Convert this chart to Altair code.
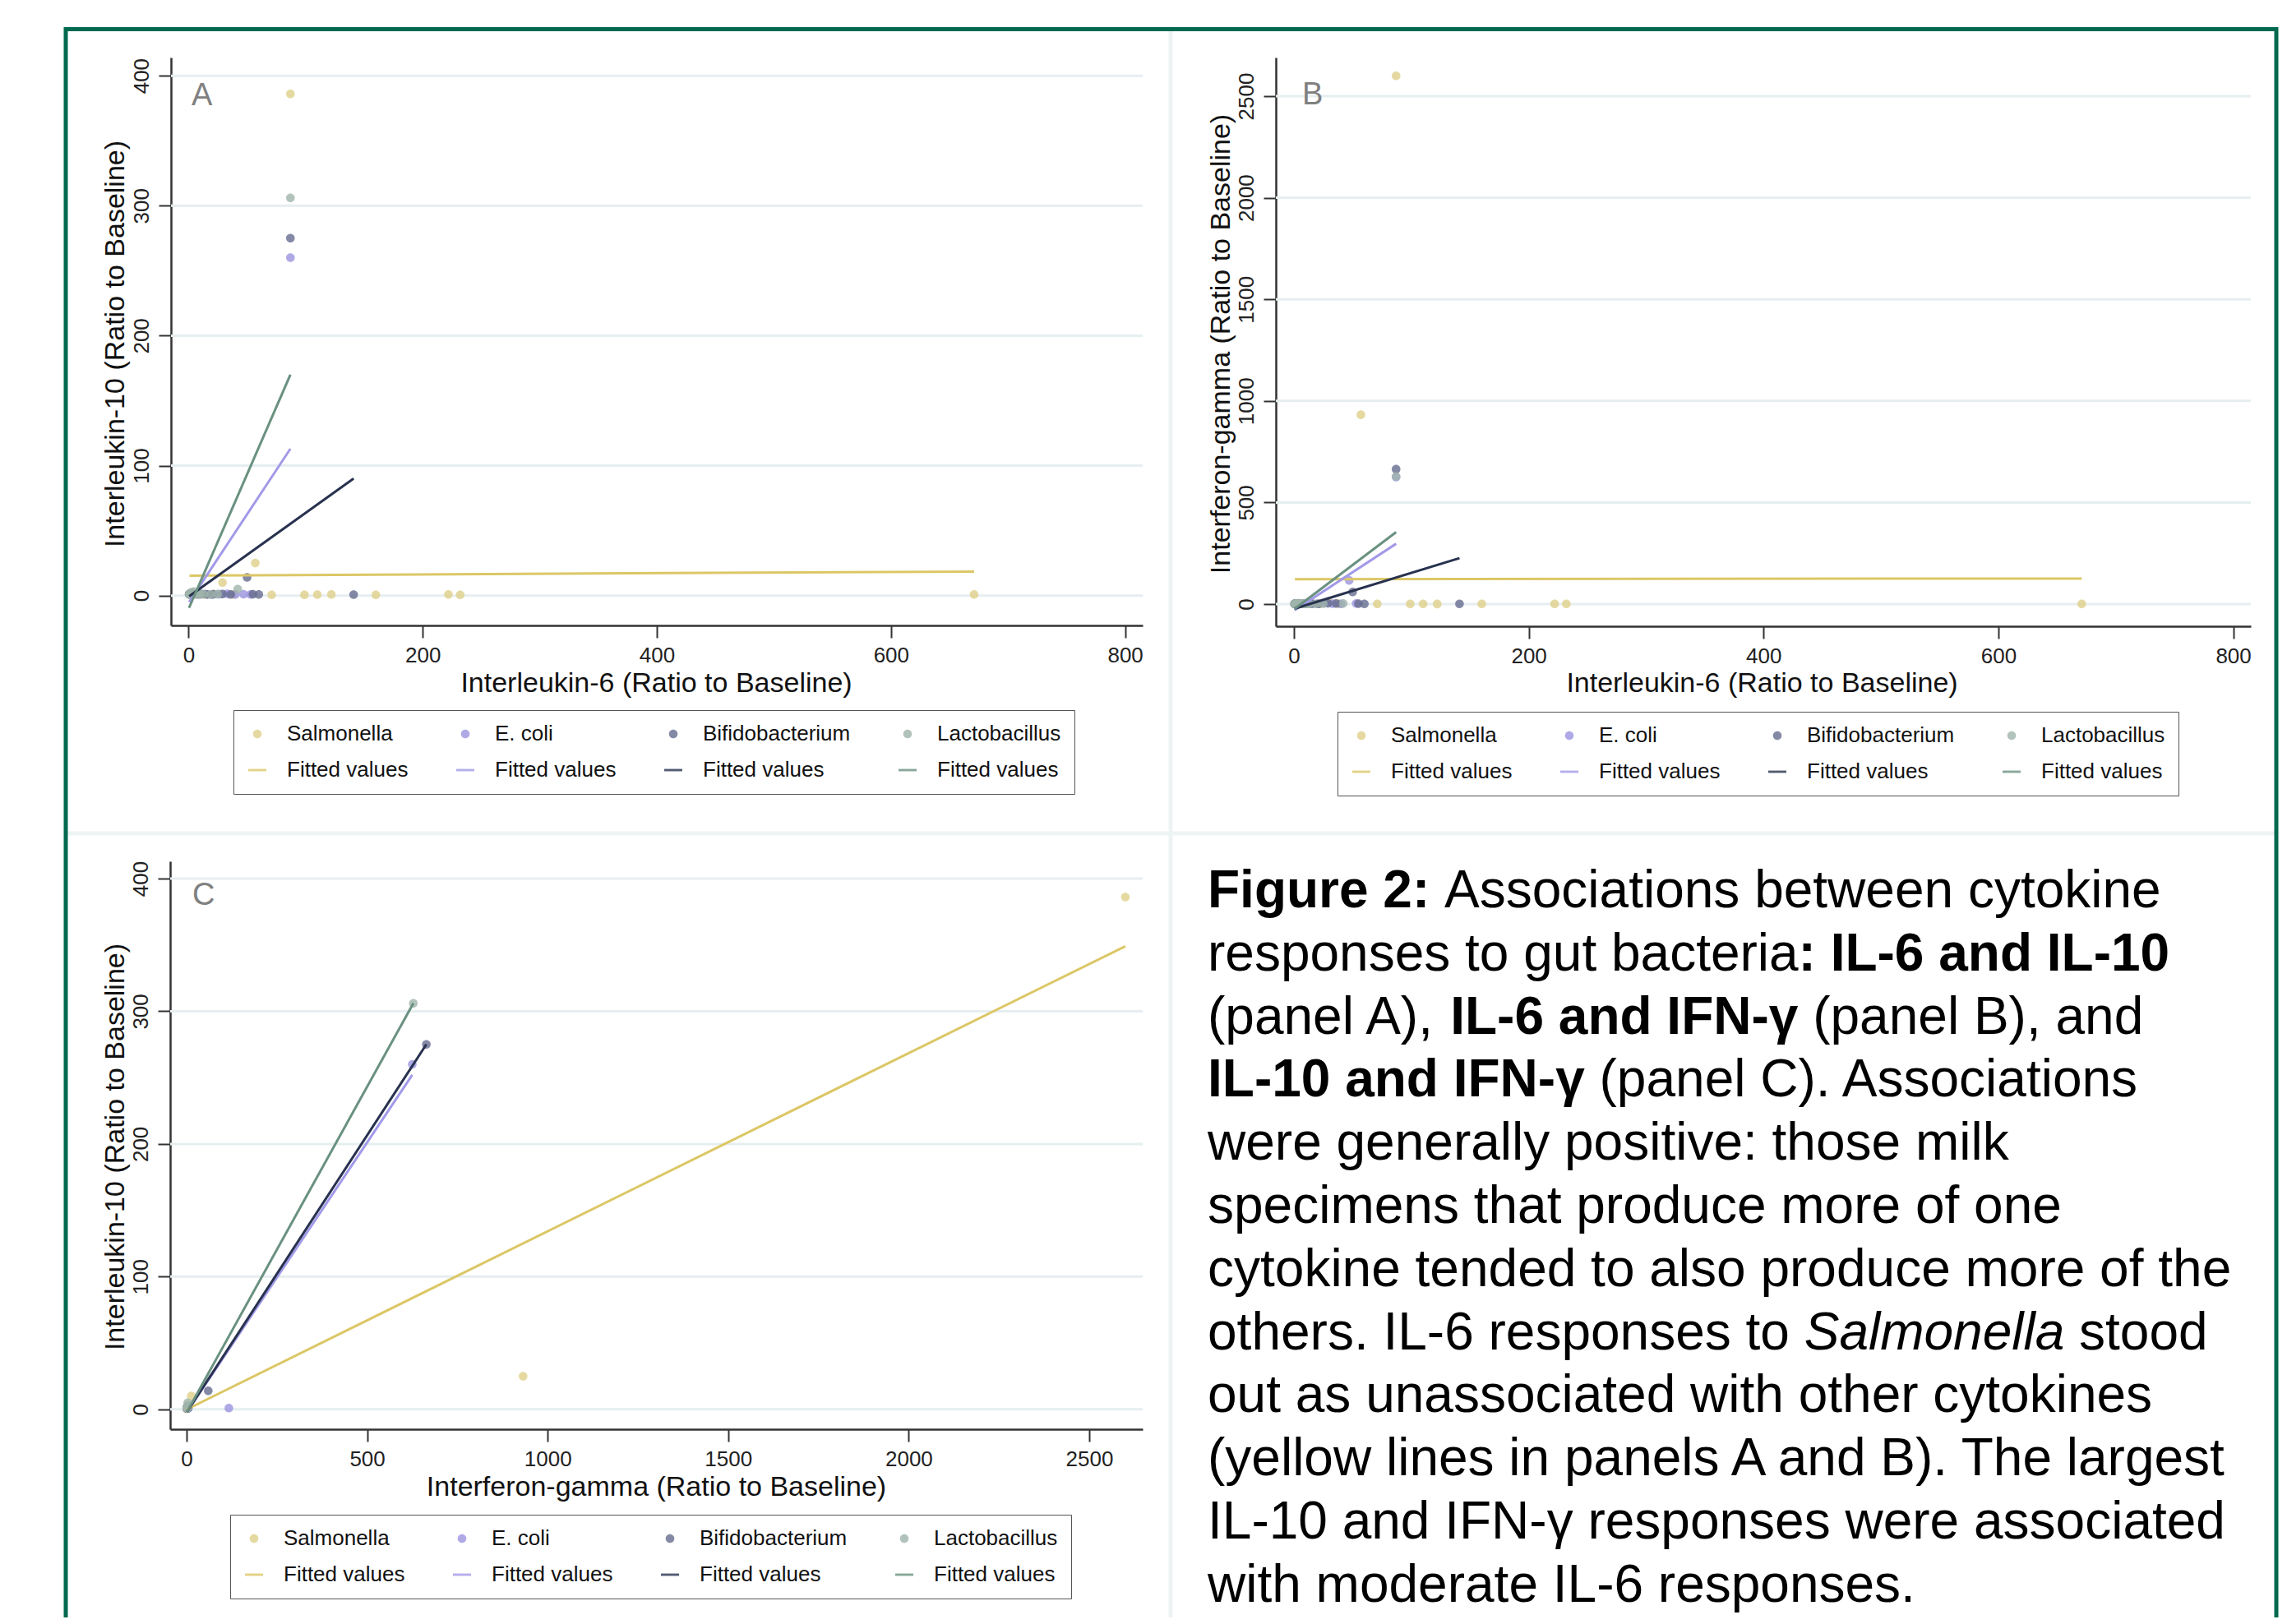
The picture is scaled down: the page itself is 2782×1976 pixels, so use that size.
import altair as alt
import pandas as pd

FONT = "Liberation Sans"
NARROW = "Liberation Sans Narrow, Liberation Sans, sans-serif"

# ---------------- data (ratio to baseline) ----------------
groups = ["Salmonella", "E. coli", "Bifidobacterium", "Lactobacillus"]

sal_il6 = [0.8, 1.6, 3.2, 5.5, 9, 14, 22, 29, 38, 57, 71, 87, 99, 110, 122, 160, 222, 232, 671]
sal_il10 = [1.0, 0.7, 1.3, 0.9, 1.1, 0.8, 1.2, 10, 0.9, 25, 0.6, 386, 0.5, 0.7, 0.9, 0.6, 0.8, 0.5, 0.9]
sal_ifng = [1.2, 0.9, 2.1, 1.4, 3.0, 1.1, 1.6, 13, 2.4, 932, 1.1, 2600, 0.8, 1.2, 0.7, 1.5, 0.9, 1.0, 0.8]

eco_il6 = [0.5, 1.1, 2.0, 3.4, 6, 9, 14, 20, 26, 33, 40, 47, 53, 87]
eco_il10 = [1.0, 0.8, 1.2, 2.0, 1.0, 0.9, 1.1, 0.7, 1.0, 1.3, 0.8, 1.0, 0.9, 260]
eco_ifng = [1.0, 4.0, 2.0, 1.5, 1.0, 3.0, 2.0, 1.2, 5.0, 2.0, 1.0, 117, 3.0, 625]

bif_il6 = [0.6, 1.2, 2.5, 4, 7, 11, 16, 21, 29, 36, 50, 55, 60, 87, 141]
bif_il10 = [1.0, 1.2, 0.9, 1.5, 1.0, 1.1, 0.8, 1.0, 1.2, 0.9, 14, 1.0, 0.8, 275, 0.7]
bif_ifng = [1.0, 2.0, 1.5, 3.0, 1.0, 2.0, 2.5, 1.0, 4.0, 3.0, 60, 2.0, 1.0, 664, 1.5]

lac_il6 = [0.4, 0.8, 1.3, 2.0, 3.0, 4.5, 6.0, 8.0, 10, 13, 19, 25, 42, 87]
lac_il10 = [1.0, 1.5, 0.8, 2.5, 1.0, 3.0, 1.2, 0.9, 1.4, 1.0, 0.8, 1.1, 5.0, 306]
lac_ifng = [1.0, 2.0, 1.2, 3.0, 1.5, 4.0, 2.0, 1.0, 2.5, 1.0, 1.5, 2.0, 3.0, 628]

# fitted-value line end points, order = groups
fitA_x = [[0.8, 671], [0.5, 87], [0.6, 141], [0.4, 87]]
fitA_y = [[15.3, 18.5], [-5, 113], [-0.5, 90], [-9.5, 170]]
fitB_x = [[0.8, 671], [0.5, 87], [0.6, 141], [0.4, 87]]
fitB_y = [[123, 126], [-30, 297], [-22, 226], [-24, 354]]
fitC_x = [[0.7, 2600], [1, 625], [1, 664], [1, 628]]
fitC_y = [[0, 349], [-2, 252], [-2, 275], [-2, 306]]

ticks_il6 = [0, 200, 400, 600, 800]
ticks_il10 = [0, 100, 200, 300, 400]
ticks_ifng = [0, 500, 1000, 1500, 2000, 2500]

caption_lines = [
    [("Figure 2:", "bold"), (" Associations between cytokine", "normal")],
    [("responses to gut bacteria", "normal"), (": IL-6 and IL-10", "bold")],
    [("(panel A), ", "normal"), ("IL-6 and IFN-γ", "bold"), (" (panel B), and", "normal")],
    [("IL-10 and IFN-γ", "bold"), (" (panel C). Associations", "normal")],
    [("were generally positive: those milk", "normal")],
    [("specimens that produce more of one", "normal")],
    [("cytokine tended to also produce more of the", "normal")],
    [("others. IL-6 responses to ", "normal"), ("Salmonella", "italic"), (" stood", "normal")],
    [("out as unassociated with other cytokines", "normal")],
    [("(yellow lines in panels A and B). The largest", "normal")],
    [("IL-10 and IFN-γ responses were associated", "normal")],
    [("with moderate IL-6 responses.", "normal")],
]

# ---------------- styling ----------------
fit_keys = ["Fitted values|" + g for g in groups]
keys = groups + fit_keys
point_colors = ["#dfd08a", "#9b93e0", "#656c8e", "#9fb4aa"]
line_colors = ["#dcc766", "#a29ae8", "#28324f", "#6a9180"]
CIRCLE = "M0.48,0A0.48,0.48,0,1,1,-0.48,0A0.48,0.48,0,1,1,0.48,0Z"
BAR = "M-1,-0.13H1V0.13H-1Z"
GREEN = "#00694f"
GRID = "#e6eef0"
AX = "#333333"
W, H = 2766, 1960


def points_df(xlists, ylists):
    rows = []
    for g, xs_, ys_ in zip(groups, xlists, ylists):
        for a, b in zip(xs_, ys_):
            rows.append({"key": g, "x": a, "y": b})
    return pd.DataFrame(rows)


def fits_df(fx, fy):
    rows = []
    for k, xs_, ys_ in zip(fit_keys, fx, fy):
        for a, b in zip(xs_, ys_):
            rows.append({"key": k, "x": a, "y": b})
    return pd.DataFrame(rows)


def x_axis(ticks, title, offset, tx, ty):
    return alt.Axis(values=ticks, orient="bottom", offset=offset, format="d",
                    title=title, titleX=tx, titleY=ty, titleAngle=0, titleAlign="center",
                    titleBaseline="middle", titleFont=FONT, titleFontSize=34,
                    titleFontWeight="normal", titleColor="#111111",
                    labelFont=FONT, labelFontSize=26, labelColor="#222222", labelAngle=0,
                    labelAlign="center", labelBaseline="middle", labelPadding=21,
                    labelFlush=False, labelOverlap=False, labelBound=False,
                    tickSize=15, tickWidth=2, tickColor=AX, domainColor=AX, domainWidth=2.5,
                    grid=False)


def y_axis(ticks, title, offset, tx, ty):
    return alt.Axis(values=ticks, orient="left", offset=offset, format="d",
                    title=title, titleX=tx, titleY=ty, titleAngle=270, titleAlign="center",
                    titleBaseline="middle", titleFont=FONT, titleFontSize=34,
                    titleFontWeight="normal", titleColor="#111111",
                    labelFont=FONT, labelFontSize=26, labelColor="#222222", labelAngle=270,
                    labelAlign="center", labelBaseline="middle", labelPadding=21,
                    labelFlush=False, labelOverlap=False, labelBound=False,
                    tickSize=15, tickWidth=2, tickColor=AX, domainColor=AX, domainWidth=2.5,
                    grid=False)


def panel(pdf, fdf, xdom, xrng, ydom, yrng, xticks, yticks, xtitle, ytitle,
          xoff, yoff, xt, yt, legxy, letter, letxy):
    xs = alt.Scale(domain=xdom, range=xrng, nice=False, zero=False)
    ys = alt.Scale(domain=ydom, range=yrng, nice=False, zero=False)
    xa = x_axis(xticks, xtitle, xoff, xt[0], xt[1])
    ya = y_axis(yticks, ytitle, yoff, yt[0], yt[1])
    cs = alt.Scale(domain=keys, range=point_colors + line_colors)
    ss = alt.Scale(domain=keys, range=[CIRCLE] * 4 + [BAR] * 4)
    leg = alt.Legend(title=None, orient="none", legendX=legxy[0], legendY=legxy[1],
                     columns=4, direction="horizontal", symbolSize=484, symbolStrokeWidth=0,
                     labelFont=FONT, labelFontSize=26, labelColor="#111111", labelOffset=23,
                     labelLimit=500, columnPadding=56, rowPadding=18, padding=16,
                     strokeColor="#555555", fillColor="white",
                     labelExpr="split(datum.label, '|')[0]")
    grid_df = pd.DataFrame({"v": yticks, "x0": [xdom[0]] * len(yticks), "x1": [xdom[1]] * len(yticks)})
    grid = alt.Chart(grid_df).mark_rule(color=GRID, strokeWidth=3).encode(
        x=alt.X("x0:Q", scale=xs, axis=xa), x2="x1:Q",
        y=alt.Y("v:Q", scale=ys, axis=ya))
    pts = alt.Chart(pdf).mark_point(filled=True, size=484, opacity=0.8).encode(
        x=alt.X("x:Q", scale=xs, axis=xa),
        y=alt.Y("y:Q", scale=ys, axis=ya),
        color=alt.Color("key:N", scale=cs, legend=leg),
        shape=alt.Shape("key:N", scale=ss, legend=leg),
        order=alt.Order("ord:Q"))
    lines = alt.Chart(fdf).mark_line(strokeWidth=3).encode(
        x=alt.X("x:Q", scale=xs, axis=xa),
        y=alt.Y("y:Q", scale=ys, axis=ya),
        color=alt.Color("key:N", scale=cs, legend=None))
    let = alt.Chart(pd.DataFrame({"t": [letter]})).mark_text(
        font=NARROW, fontSize=38, color="#808080", align="left", baseline="alphabetic").encode(
        x=alt.value(letxy[0]), y=alt.value(letxy[1]), text="t:N")
    return alt.layer(grid, pts, lines, let)


pA = points_df([sal_il6, eco_il6, bif_il6, lac_il6], [sal_il10, eco_il10, bif_il10, lac_il10])
pB = points_df([sal_il6, eco_il6, bif_il6, lac_il6], [sal_ifng, eco_ifng, bif_ifng, lac_ifng])
pC = points_df([sal_ifng, eco_ifng, bif_ifng, lac_ifng], [sal_il10, eco_il10, bif_il10, lac_il10])
for d in (pA, pB, pC):
    d["ord"] = range(len(d))

IL6 = "Interleukin-6 (Ratio to Baseline)"
IL10 = "Interleukin-10 (Ratio to Baseline)"
IFN = "Interferon-gamma (Ratio to Baseline)"

panelA = panel(pA, fits_df(fitA_x, fitA_y), [-15, 815], [200, 1382], [-23, 414], [753, 62],
               ticks_il6, ticks_il10, IL6, IL10, 753 - H, -200, (790, 70), (-68, 410),
               (276, 856), "A", (225, 120))
panelB = panel(pB, fits_df(fitB_x, fitB_y), [-15.4, 815], [1544, 2730], [-109, 2690], [754, 62],
               ticks_il6, ticks_ifng, IL6, IFN, 754 - H, -1544, (2135, 69), (-67, 410),
               (1619, 858), "B", (1576, 119))
panelC = panel(pC, fits_df(fitC_x, fitC_y), [-45.5, 2648], [199, 1382], [-15, 413], [1731, 1040],
               ticks_ifng, ticks_il10, IFN, IL10, 1731 - H, -199, (790, 70), (-67, 1387),
               (272, 1835), "C", (226, 1093))

# ---------------- caption ----------------
W_REG = {' ': 278, '(': 333, ')': 333, ',': 278, '-': 333, '.': 278, ':': 278,
         'A': 667, 'B': 667, 'C': 722, 'F': 611, 'I': 278, 'L': 556, 'N': 722, 'S': 667, 'T': 611,
         'a': 556, 'b': 556, 'c': 500, 'd': 556, 'e': 556, 'f': 278, 'g': 556, 'h': 556, 'i': 222,
         'k': 500, 'l': 222, 'm': 833, 'n': 556, 'o': 556, 'p': 556, 'r': 333, 's': 500, 't': 278,
         'u': 556, 'v': 500, 'w': 722, 'y': 500, 'γ': 500}
W_BOLD = {' ': 278, '(': 333, ')': 333, ',': 278, '-': 333, '.': 278, ':': 333,
          'A': 722, 'B': 722, 'C': 722, 'F': 611, 'I': 278, 'L': 611, 'N': 722,
          'a': 556, 'd': 611, 'e': 556, 'g': 611, 'i': 278, 'n': 611, 'r': 389, 'u': 611, 'γ': 556}
CAP_FS = 64


def text_width(s, style):
    tbl = W_BOLD if style == "bold" else W_REG
    return sum(tbl.get(ch, 556) for ch in s) * CAP_FS / 1000.0


rows = []
for i, segs in enumerate(caption_lines):
    x = 1461
    for seg, style in segs:
        lead = seg[:len(seg) - len(seg.lstrip())]
        rows.append({"text": seg.strip(), "x": x + text_width(lead, style),
                     "y": 1096 + i * 76.8, "style": style})
        x += text_width(seg, style)
cap_df = pd.DataFrame(rows)


def cap_layer(style, weight, fstyle):
    return alt.Chart(cap_df[cap_df["style"] == style]).mark_text(
        font=FONT, fontSize=CAP_FS, fontWeight=weight, fontStyle=fstyle, align="left",
        baseline="alphabetic", color="#000000").encode(
        x=alt.X("x:Q", scale=None, axis=None), y=alt.Y("y:Q", scale=None, axis=None),
        text="text:N")


one = pd.DataFrame({"a": [0]})


def vrule(x, y0, y1, color, w):
    return alt.Chart(one).mark_rule(color=color, strokeWidth=w).encode(
        x=alt.value(x), y=alt.value(y0), y2=alt.value(y1))


def hrule(y, x0, x1, color, w):
    return alt.Chart(one).mark_rule(color=color, strokeWidth=w).encode(
        y=alt.value(y), x=alt.value(x0), x2=alt.value(x1))


deco = [
    vrule(1416, 30, H, "#eef3f3", 5),
    hrule(1006, 74, 2759, "#eef3f3", 5),
    hrule(27.5, 70, 2763, GREEN, 5),
    vrule(72, 25, H, GREEN, 5),
    vrule(2761, 25, H, GREEN, 5),
]

chart = alt.layer(
    *deco, panelA, panelB, panelC,
    cap_layer("normal", "normal", "normal"),
    cap_layer("bold", "bold", "normal"),
    cap_layer("italic", "normal", "italic"),
).resolve_scale(
    x="independent", y="independent", color="independent", shape="independent"
).properties(width=W, height=H, padding=0).configure_view(strokeWidth=0)

chart.save("out.html", embed_options={"renderer": "svg", "actions": False})
